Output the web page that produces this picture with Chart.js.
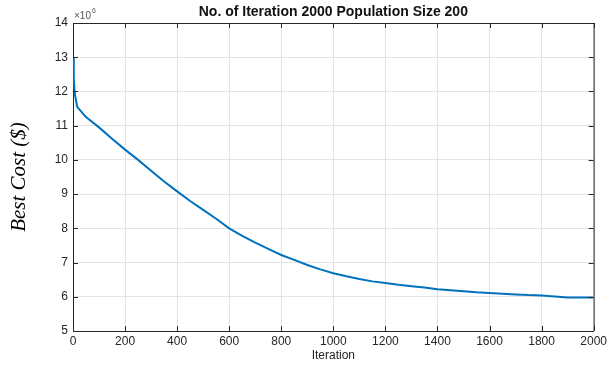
<!DOCTYPE html>
<html>
<head>
<meta charset="utf-8">
<script src="https://cdn.jsdelivr.net/npm/chart.js@4"></script>
<style>
  html, body { margin: 0; padding: 0; background: #fff; }
  #wrap { width: 610px; height: 367px; }
</style>
</head>
<body>
<div id="wrap"><canvas id="myChart"></canvas></div>
<script>
// best cost, in units of 10^6 $
var iterations = [0, 3, 6, 10, 16, 50, 100, 150, 200, 250, 300, 350, 400, 450, 500, 550, 600,
  650, 700, 750, 800, 850, 900, 950, 1000, 1050, 1100, 1150, 1200, 1250, 1300, 1350, 1400,
  1450, 1500, 1550, 1600, 1650, 1700, 1750, 1800, 1850, 1900, 1950, 2000];
var bestCost = [13.0, 12.4, 12.0, 11.8, 11.55, 11.25, 10.95, 10.62, 10.3, 10.0, 9.68, 9.37, 9.08,
  8.8, 8.54, 8.28, 8.0, 7.78, 7.58, 7.4, 7.22, 7.08, 6.93, 6.8, 6.69, 6.6, 6.52, 6.45, 6.4,
  6.35, 6.31, 6.27, 6.22, 6.19, 6.16, 6.13, 6.11, 6.09, 6.07, 6.05, 6.04, 6.01, 5.98, 5.98, 5.98];
var xTicks = [0, 200, 400, 600, 800, 1000, 1200, 1400, 1600, 1800, 2000];
var yTicks = [5, 6, 7, 8, 9, 10, 11, 12, 13, 14];
var titleText = "No. of Iteration 2000 Population Size 200";

var points = iterations.map(function (it, i) {
  return { x: it, y: bestCost[i] };
});

var axisColor = "#262626";
var sans = "'Liberation Sans', Arial, sans-serif";

// MATLAB style box, inward ticks, the x10^6 exponent and a title centred on the axes
var boxPlugin = {
  id: "box",
  afterDraw: function (chart) {
    var ctx = chart.ctx;
    var a = chart.chartArea;
    var xs = chart.scales.x;
    var ys = chart.scales.y;
    ctx.save();
    ctx.strokeStyle = axisColor;
    ctx.lineWidth = 1;
    ctx.beginPath();
    ctx.moveTo(a.left, a.top + 0.5);
    ctx.lineTo(a.right + 0.5, a.top + 0.5);
    ctx.lineTo(a.right + 0.5, a.bottom);
    xTicks.forEach(function (t) {
      var px = Math.round(xs.getPixelForValue(t)) + 0.5;
      ctx.moveTo(px, a.bottom);
      ctx.lineTo(px, a.bottom - 5);
      ctx.moveTo(px, a.top);
      ctx.lineTo(px, a.top + 5);
    });
    yTicks.forEach(function (t) {
      var py = Math.round(ys.getPixelForValue(t)) + 0.5;
      ctx.moveTo(a.left, py);
      ctx.lineTo(a.left + 5, py);
      ctx.moveTo(a.right, py);
      ctx.lineTo(a.right - 5, py);
    });
    ctx.stroke();

    ctx.fillStyle = "#555";
    ctx.textBaseline = "alphabetic";
    ctx.textAlign = "left";
    ctx.font = "10px " + sans;
    ctx.fillText("\u00d710", a.left + 1, a.top - 4);
    var w = ctx.measureText("\u00d710").width;
    ctx.font = "7px " + sans;
    ctx.fillText("6", a.left + 2 + w, a.top - 10);

    ctx.fillStyle = "#111";
    ctx.textAlign = "center";
    ctx.font = "bold 14px " + sans;
    ctx.fillText(titleText, (a.left + a.right) / 2, a.top - 7);
    ctx.restore();
  }
};

new Chart("myChart", {
  type: "line",
  data: {
    datasets: [
      {
        data: points,
        borderColor: "#0072BD",
        borderWidth: 2,
        pointRadius: 0,
        tension: 0,
        fill: false,
      },
    ],
  },
  options: {
    responsive: true,
    maintainAspectRatio: false,
    animation: false,
    layout: { padding: { left: 0, right: 16, top: 23, bottom: 0 } },
    plugins: {
      legend: { display: false },
      tooltip: { enabled: false },
      title: { display: false },
    },
    scales: {
      x: {
        type: "linear",
        min: 0,
        max: 2000,
        afterFit: function (s) { s.height = 36; },
        afterBuildTicks: function (s) {
          s.ticks = xTicks.map(function (v) { return { value: v }; });
        },
        grid: { color: "#e3e3e3", drawTicks: false },
        border: { color: axisColor, width: 1 },
        ticks: {
          color: axisColor,
          font: { family: sans, size: 12 },
          padding: 3,
          maxRotation: 0,
          callback: function (v) { return String(v); },
        },
        title: {
          display: true,
          text: "Iteration",
          color: axisColor,
          font: { family: sans, size: 12 },
          padding: { top: 0, bottom: 4 },
        },
      },
      y: {
        type: "linear",
        min: 5,
        max: 14,
        afterFit: function (s) { s.width = 73; },
        afterBuildTicks: function (s) {
          s.ticks = yTicks.map(function (v) { return { value: v }; });
        },
        grid: { color: "#e3e3e3", drawTicks: false },
        border: { color: axisColor, width: 1 },
        ticks: { color: axisColor, font: { family: sans, size: 12 }, padding: 5 },
        title: {
          display: true,
          text: "Best Cost ($)",
          color: "#000",
          font: { family: "'Liberation Serif', 'Times New Roman', serif", size: 21, style: "italic" },
          padding: { top: 7, bottom: 0 },
        },
      },
    },
  },
  plugins: [boxPlugin],
});
</script>
</body>
</html>
